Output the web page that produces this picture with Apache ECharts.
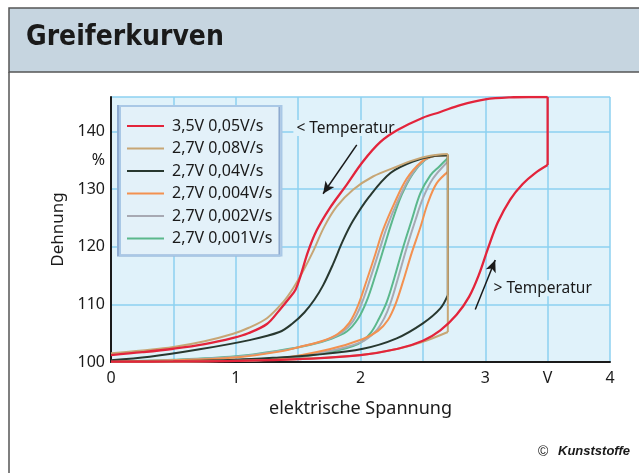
<!DOCTYPE html>
<html>
<head>
<meta charset="utf-8">
<script src="https://cdn.jsdelivr.net/npm/echarts@6/dist/echarts.min.js"></script>
<style>
html,body{margin:0;padding:0;background:#fff;}
#c{width:639px;height:473px;}
</style>
</head>
<body>
<div id="c"></div>
<script>
// ---- data ----
const title = 'Greiferkurven';
const xName = 'elektrische Spannung';
const yName = 'Dehnung';
const seriesNames = ['3,5V 0,05V/s', '2,7V 0,08V/s', '2,7V 0,04V/s', '2,7V 0,004V/s', '2,7V 0,002V/s', '2,7V 0,001V/s'];
const xTickLabels = {0: '0', 1: '1', 2: '2', 3: '3', 3.5: 'V', 4: '4'};
const yTickLabels = {100: '100', 110: '110', 120: '120', 130: '130', 135: '%', 140: '140'};

// each curve: loading branch (rising voltage) and unloading branch (falling voltage)
const redLoad = [[0,100.05],[0.5,100.1],[1.0,100.2],[1.5,100.5],[2.0,101.2],[2.3,102.3],[2.5,103.7],[2.64,105.5],
  [2.77,108.2],[2.87,111.3],[2.95,115.2],[3.02,119.6],[3.1,124.2],[3.2,128.2],[3.3,130.9],[3.4,132.8],[3.5,134.2]];
const redUnload = [[3.5,146],[3.35,146],[3.2,145.95],[3.0,145.6],[2.8,144.6],[2.64,143.4],[2.5,142.4],[2.3,140.3],
  [2.16,138.2],[2.02,134.8],[1.89,130.8],[1.75,126.6],[1.65,122.9],[1.58,119.2],[1.52,115],[1.48,112.6],[1.43,111.1],
  [1.35,109.0],[1.25,106.6],[1.1,105.0],[0.98,104.2],[0.75,103.1],[0.5,102.3],[0.25,101.7],[0,101.2]];

const tanLoad = [[0,100.05],[0.5,100.1],[1.0,100.2],[1.6,100.6],[2.0,101.2],[2.3,102.3],[2.5,103.5],[2.7,105.2]];
const tanUnload = [[2.7,136.1],[2.56,135.8],[2.42,135.0],[2.29,133.9],[2.1,132.2],[1.94,129.9],[1.81,127.0],[1.71,123.5],
  [1.62,119.2],[1.54,115.8],[1.46,112.8],[1.38,110.4],[1.25,107.6],[1.1,105.9],[0.98,104.9],[0.75,103.6],[0.5,102.6],
  [0.25,102],[0,101.5]];

const darkLoad = [[0,100.05],[0.5,100.15],[1.0,100.4],[1.35,100.8],[1.62,101.2],[2.02,102.3],[2.29,104.1],[2.5,106.7],
  [2.64,109.3],[2.7,111.6]];
const darkUnload = [[2.7,135.9],[2.6,135.8],[2.42,134.8],[2.24,132.8],[2.07,128.7],[1.94,124.5],[1.86,121.1],[1.78,117],
  [1.7,113.3],[1.63,110.8],[1.55,108.6],[1.45,106.6],[1.35,105.2],[1.11,103.8],[0.71,102.2],[0.31,100.9],[0,100.3]];

const orangeLoad = [[0,100.0],[0.5,100.1],[1.0,100.25],[1.35,100.6],[1.75,102.2],[2.02,104.0],[2.14,105.4],[2.22,107.3],
  [2.28,110],[2.34,113.9],[2.41,118.9],[2.48,123.4],[2.54,127.6],[2.61,131.0],[2.7,133.0]];
const orangeUnload = [[2.7,135.9],[2.58,135.7],[2.48,134.6],[2.37,131.8],[2.27,127.5],[2.18,122.9],[2.12,118.8],[2.05,114.2],
  [1.98,109.8],[1.91,106.8],[1.82,104.9],[1.7,103.7],[1.51,102.6],[1.35,101.8],[1.0,100.8],[0.5,100.3],[0,100.1]];

const grayLoad = [[0,100.0],[1.0,100.2],[1.35,100.5],[1.75,101.9],[2.0,103.4],[2.12,105.3],[2.19,107.6],[2.24,110.2],
  [2.3,114.5],[2.37,119.8],[2.44,124.6],[2.5,128.4],[2.58,131.8],[2.7,134.8]];
const grayUnload = [[2.7,135.9],[2.6,135.8],[2.5,134.8],[2.4,132.2],[2.3,128],[2.21,123.3],[2.15,119.3],[2.08,114.6],
  [2.01,110.2],[1.94,107.1],[1.85,105.1],[1.72,103.8],[1.55,102.8],[1.35,101.9],[1.0,100.9],[0.5,100.35],[0,100.1]];

const greenLoad = [[0,100.0],[1.0,100.2],[1.35,100.5],[1.75,101.7],[1.98,103.1],[2.08,105],[2.15,107.6],[2.21,110.4],
  [2.27,114.5],[2.34,119.8],[2.41,124.6],[2.48,129.3],[2.56,132.4],[2.63,133.9],[2.7,135.4]];
const greenUnload = [[2.7,135.9],[2.6,135.8],[2.52,135.1],[2.42,132.7],[2.33,129],[2.25,124.2],[2.19,120],[2.12,115.1],
  [2.05,110.6],[1.98,107.5],[1.89,105.3],[1.76,104],[1.6,103],[1.35,102],[1.0,101.0],[0.5,100.4],[0,100.1]];

// annotations (data coordinates)
const annoLow = {text: '< Temperatur', at: [1.88, 140.6], from: [1.97, 137.7], to: [1.70, 129.2]};
const annoHigh = {text: '> Temperatur', at: [3.46, 112.8], from: [2.92, 109.1], to: [3.08, 117.7]};

// ---- chart ----
const FONT = '"Noto Sans", "Open Sans", sans-serif';
const colors = ['#e3243b', '#c7a675', '#28382f', '#f39150', '#a7a9b3', '#5bb88c'];
const curves = [
  [redLoad, redUnload], [tanLoad, tanUnload], [darkLoad, darkUnload],
  [orangeLoad, orangeUnload], [grayLoad, grayUnload], [greenLoad, greenUnload]
];
const drawOrder = [5, 4, 3, 2, 1, 0];

const series = [];
drawOrder.forEach(i => {
  const [load, unload] = curves[i];
  const base = {
    name: seriesNames[i], type: 'line', showSymbol: false, silent: true,
    lineStyle: {color: colors[i], width: i === 0 ? 2.3 : 2},
    itemStyle: {color: colors[i]},
    z: 3 + (5 - i)
  };
  series.push(Object.assign({}, base, {data: load, smooth: 0.35}));
  series.push(Object.assign({}, base, {data: [load[load.length - 1], unload[0]], smooth: false}));
  series.push(Object.assign({}, base, {data: unload, smooth: 0.35}));
});

const bgPlot = '#e0f2fa';
series.push({
  name: 'anno',
  type: 'line',
  data: [],
  silent: true,
  markLine: {
    silent: true,
    symbol: ['none', 'arrow'],
    symbolSize: [8, 12],
    lineStyle: {color: '#1a1a1a', width: 1.5, type: 'solid'},
    label: {show: false},
    data: [
      [{coord: annoLow.from}, {coord: annoLow.to}],
      [{coord: annoHigh.from}, {coord: annoHigh.to}]
    ]
  },
  markPoint: {
    silent: true,
    symbol: 'rect',
    symbolSize: 1,
    itemStyle: {color: 'rgba(0,0,0,0)'},
    label: {show: true, position: 'inside', fontFamily: FONT, fontSize: 15.5, color: '#1a1a1a',
            backgroundColor: bgPlot, padding: [0, 3]},
    data: [
      {coord: annoLow.at, label: {formatter: annoLow.text}},
      {coord: annoHigh.at, label: {formatter: annoHigh.text}}
    ]
  },
  z: 10
});

const chart = echarts.init(document.getElementById('c'), null, {renderer: 'canvas'});
chart.setOption({
  animation: false,
  backgroundColor: '#ffffff',
  grid: {left: 111, right: 29, top: 97, bottom: 111, show: true, backgroundColor: bgPlot, borderWidth: 0},
  legend: {
    data: seriesNames,
    orient: 'vertical',
    left: 120, top: 106,
    icon: 'rect',
    itemWidth: 37, itemHeight: 2,
    itemGap: 4.5,
    padding: [11, 9, 8, 7],
    backgroundColor: '#e3f1f9',
    borderColor: '#a9c8e6',
    borderWidth: 2,
    shadowColor: '#8eaad0', shadowOffsetX: -2, shadowBlur: 0,
    selectedMode: false,
    textStyle: {fontFamily: FONT, fontSize: 16, color: '#1a1a1a', lineHeight: 18, padding: [0, 0, 0, 3]}
  },
  xAxis: {
    type: 'value', min: 0, max: 4, interval: 0.5,
    name: xName, nameLocation: 'middle', nameGap: 38,
    nameTextStyle: {fontFamily: FONT, fontSize: 18, color: '#1a1a1a'},
    axisLine: {show: true, lineStyle: {color: '#1a1a1a', width: 2}},
    axisTick: {show: false},
    axisLabel: {fontFamily: FONT, fontSize: 16, color: '#1a1a1a', margin: 8,
      formatter: v => (xTickLabels[v] !== undefined ? xTickLabels[v] : '')},
    splitLine: {show: true, lineStyle: {color: '#8dd0f0', width: 1.5}}
  },
  yAxis: [{
    type: 'value', min: 100, max: 146, interval: 5,
    name: yName, nameLocation: 'middle', nameGap: 44, nameRotate: 90,
    nameTextStyle: {fontFamily: FONT, fontSize: 17, color: '#1a1a1a'},
    axisLine: {show: true, lineStyle: {color: '#1a1a1a', width: 2}},
    axisTick: {show: false},
    axisLabel: {fontFamily: FONT, fontSize: 16, color: '#1a1a1a', margin: 6, showMaxLabel: false,
      formatter: v => (yTickLabels[v] !== undefined ? yTickLabels[v] : '')},
    splitLine: {show: false}
  }, {
    type: 'value', min: 100, max: 146, interval: 10, position: 'left',
    axisLine: {show: false}, axisTick: {show: false}, axisLabel: {show: false},
    splitLine: {show: true, lineStyle: {color: '#8dd0f0', width: 1.5}}
  }],
  graphic: [
    {type: 'rect', shape: {x: 9, y: 8, width: 640, height: 64}, style: {fill: '#c6d5e0', stroke: '#555', lineWidth: 1.5}, z: 0},
    {type: 'line', shape: {x1: 9, y1: 72, x2: 9, y2: 473}, style: {stroke: '#555', lineWidth: 1.5}},
    {type: 'text', left: 26, top: 24, style: {text: title, font: 'bold 28px "DejaVu Sans Condensed", "Liberation Sans Narrow", sans-serif', fill: '#1a1a1a'}},
    {type: 'text', left: 538, top: 445, style: {text: '©', font: '14px "Liberation Sans", sans-serif', fill: '#1a1a1a'}},
    {type: 'text', left: 558, top: 445, style: {text: 'Kunststoffe', font: 'italic bold 13px "Liberation Sans", sans-serif', fill: '#1a1a1a'}}
  ],
  series: series
});
</script>
</body>
</html>
